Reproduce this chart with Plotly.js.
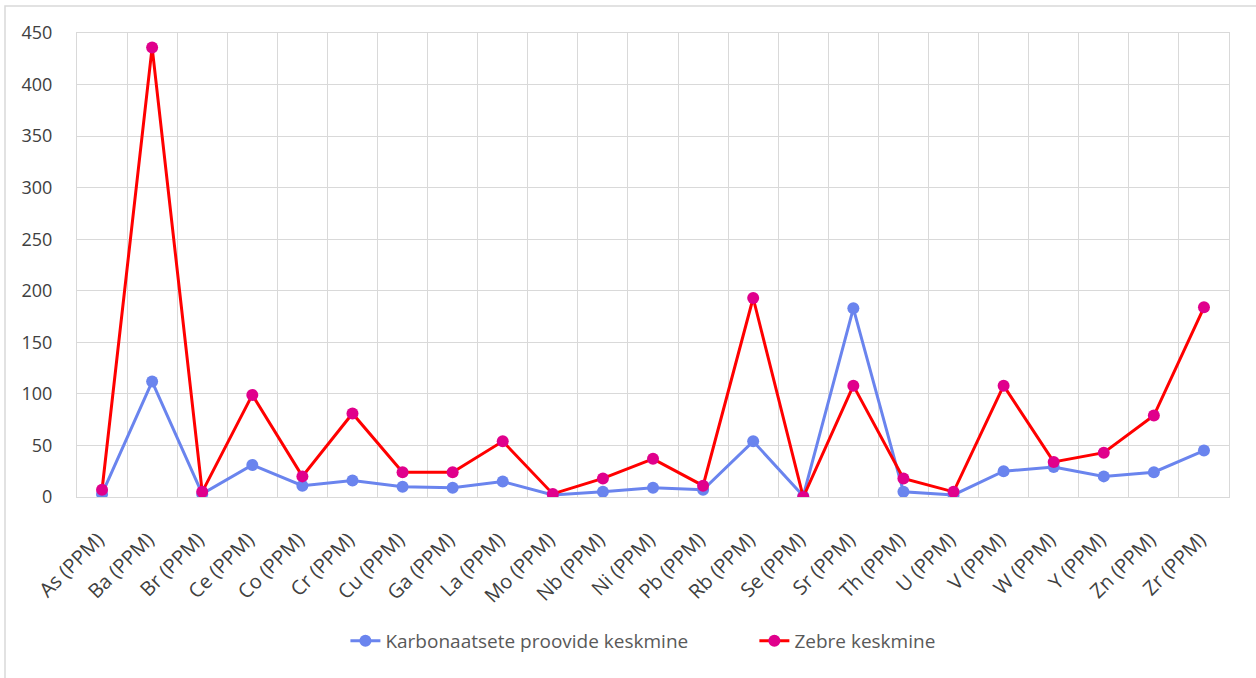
<!DOCTYPE html>
<html>
<head>
<meta charset="utf-8">
<script src="https://cdn.plot.ly/plotly-3.0.1.min.js"></script>
<style>
  html, body { margin: 0; padding: 0; background: #ffffff; }
  #chart { width: 1256px; height: 678px; }
</style>
</head>
<body>
<div id="chart"></div>
<script>
// Element labels (ppm)
const elements = [
  "As (PPM)", "Ba (PPM)", "Br (PPM)", "Ce (PPM)", "Co (PPM)", "Cr (PPM)",
  "Cu (PPM)", "Ga (PPM)", "La (PPM)", "Mo (PPM)", "Nb (PPM)", "Ni (PPM)",
  "Pb (PPM)", "Rb (PPM)", "Se (PPM)", "Sr (PPM)", "Th (PPM)", "U (PPM)",
  "V (PPM)", "W (PPM)", "Y (PPM)", "Zn (PPM)", "Zr (PPM)"
];

// Mean of the carbonate samples
const carbonateMean = [
  3, 112, 3, 31, 11, 16, 10, 9, 15, 2, 5, 9,
  7, 54, 1, 183, 5, 2, 25, 29, 20, 24, 45
];

// Mean of the zebra samples
const zebraMean = [
  7, 436, 5, 99, 20, 81, 24, 24, 54, 3, 18, 37,
  11, 193, 0, 108, 18, 5, 108, 34, 43, 79, 184
];

const seriesNames = ["Karbonaatsete proovide keskmine", "Zebre keskmine"];

const fontFamily = "'Open Sans', 'Noto Sans', sans-serif";

const traces = [
  {
    type: "scatter",
    mode: "lines+markers",
    name: seriesNames[0],
    legend: "legend",
    x: elements,
    y: carbonateMean,
    line: { color: "#6a84ee", width: 3 },
    marker: { color: "#6a84ee", size: 12 }
  },
  {
    type: "scatter",
    mode: "lines+markers",
    name: seriesNames[1],
    legend: "legend2",
    x: elements,
    y: zebraMean,
    line: { color: "#ff0000", width: 3 },
    marker: { color: "#e0008c", size: 12 }
  }
];

const legendFont = { family: fontFamily, size: 19, color: "#595959" };

const layout = {
  width: 1256,
  height: 678,
  margin: { l: 77, r: 27, t: 33, b: 181 },
  paper_bgcolor: "#ffffff",
  plot_bgcolor: "#ffffff",
  font: { family: fontFamily, color: "#404040", size: 18 },
  showlegend: true,
  legend: {
    orientation: "h",
    x: 0.233,
    xanchor: "left",
    y: -0.31,
    yanchor: "middle",
    font: legendFont
  },
  legend2: {
    orientation: "h",
    x: 0.588,
    xanchor: "left",
    y: -0.31,
    yanchor: "middle",
    font: legendFont
  },
  xaxis: {
    type: "category",
    range: [-0.5, elements.length - 0.5],
    tickson: "boundaries",
    showgrid: true,
    gridcolor: "#d9d9d9",
    gridwidth: 1,
    showline: true,
    linecolor: "#d9d9d9",
    linewidth: 1,
    mirror: true,
    ticks: "",
    ticklabelstandoff: 22,
    ticklabelshift: -4,
    tickangle: -45,
    tickfont: { family: fontFamily, size: 20, color: "#404040" },
    zeroline: false,
    fixedrange: true
  },
  yaxis: {
    range: [0, 450],
    dtick: 50,
    tick0: 0,
    showgrid: true,
    gridcolor: "#d9d9d9",
    gridwidth: 1,
    showline: true,
    linecolor: "#d9d9d9",
    linewidth: 1,
    mirror: true,
    ticks: "",
    ticklabelstandoff: 20,
    tickfont: { family: fontFamily, size: 18, color: "#404040" },
    zeroline: false,
    fixedrange: true
  },
  shapes: [
    {
      type: "rect",
      xref: "paper",
      yref: "paper",
      x0: -0.0625,
      x1: 1.05,
      y0: -0.42,
      y1: 1.058,
      line: { color: "#d9d9d9", width: 1.5 },
      fillcolor: "rgba(0,0,0,0)",
      layer: "below"
    }
  ]
};

Plotly.newPlot("chart", traces, layout, { displayModeBar: false, staticPlot: true });
</script>
</body>
</html>
